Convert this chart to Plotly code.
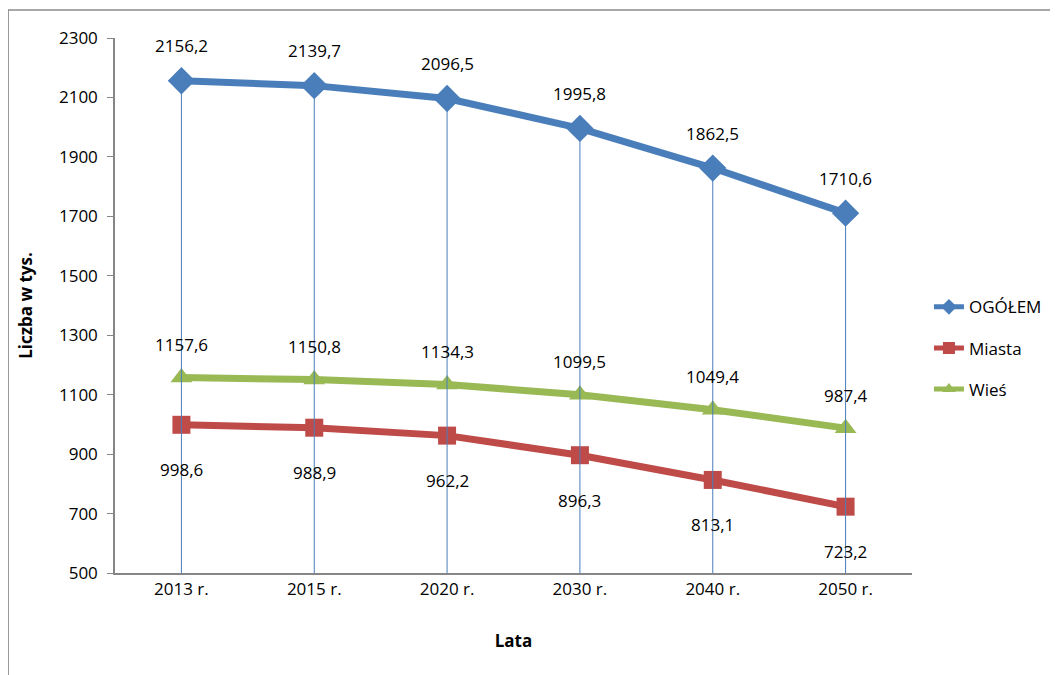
import plotly.graph_objects as go

categories = ["2013 r.", "2015 r.", "2020 r.", "2030 r.", "2040 r.", "2050 r."]
ogolem = [2156.2, 2139.7, 2096.5, 1995.8, 1862.5, 1710.6]
miasta = [998.6, 988.9, 962.2, 896.3, 813.1, 723.2]
wies = [1157.6, 1150.8, 1134.3, 1099.5, 1049.4, 987.4]

def fmt(v):
    return f"{v:.1f}".replace(".", ",")

FONT = "Open Sans, sans-serif"
BLUE = "#4A7EBB"
RED = "#BE4B48"
GREEN = "#98B954"
AXIS = "#868686"

fig = go.Figure()
fig.add_trace(go.Scatter(x=categories, y=ogolem, name="OGÓŁEM", mode="lines+markers",
                         legendgroup="a",
                         line=dict(color=BLUE, width=7),
                         marker=dict(symbol="diamond", size=21, color=BLUE)))
fig.add_trace(go.Scatter(x=categories, y=miasta, name="Miasta", mode="lines+markers",
                         legendgroup="b",
                         line=dict(color=RED, width=7),
                         marker=dict(symbol="square", size=18, color=RED)))
fig.add_trace(go.Scatter(x=categories, y=wies, name="Wieś", mode="lines+markers",
                         legendgroup="c",
                         line=dict(color=GREEN, width=7),
                         marker=dict(symbol="triangle-up", size=19, color=GREEN)))

# drop lines from the top series down to the axis
for c, v in zip(categories, ogolem):
    fig.add_shape(type="line", xref="x", yref="y", x0=c, x1=c, y0=500, y1=v,
                  line=dict(color=BLUE, width=1), layer="above")

for c, v in zip(categories, ogolem):
    fig.add_annotation(x=c, y=v, text=fmt(v), showarrow=False, yshift=35,
                       font=dict(size=17, color="black", family=FONT))
for c, v in zip(categories, wies):
    fig.add_annotation(x=c, y=v, text=fmt(v), showarrow=False, yshift=33,
                       font=dict(size=17, color="black", family=FONT))
for c, v in zip(categories, miasta):
    fig.add_annotation(x=c, y=v, text=fmt(v), showarrow=False, yshift=-45,
                       font=dict(size=17, color="black", family=FONT))

# chart frame (top and left edges visible, others run off the page)
fig.add_shape(type="rect", xref="paper", yref="paper",
              x0=-107/798, x1=2.0, y0=-1.0, y1=1 + 28/535,
              line=dict(color="#8C8C8C", width=1.5), layer="below")

fig.update_layout(
    width=1050, height=667,
    margin=dict(l=107, r=145, t=30, b=102),
    paper_bgcolor="white", plot_bgcolor="white",
    font=dict(family=FONT, size=17, color="black"),
    showlegend=True,
    legend=dict(x=1.02, y=0.42, xanchor="left", yanchor="middle",
                font=dict(size=17, family=FONT), tracegroupgap=16,
                itemsizing="constant", bgcolor="rgba(0,0,0,0)"),
    xaxis=dict(type="category", range=[-0.5, 5.5], showgrid=False,
               showline=True, linecolor=AXIS, linewidth=1.5,
               ticks="", tickfont=dict(size=17, family=FONT),
               title=dict(text="<b>Lata</b>", font=dict(size=17, family=FONT), standoff=36),
               zeroline=False),
    yaxis=dict(range=[500, 2300], tickvals=list(range(500, 2301, 200)),
               showgrid=False, showline=True, linecolor=AXIS, linewidth=1.5,
               ticks="outside", ticklen=6, tickcolor=AXIS, ticklabelstandoff=6,
               tickfont=dict(size=17, family=FONT),
               title=dict(text="<b>Liczba w tys.</b>", font=dict(size=17, family=FONT), standoff=22),
               zeroline=False),
)

fig.write_html("out.html")
